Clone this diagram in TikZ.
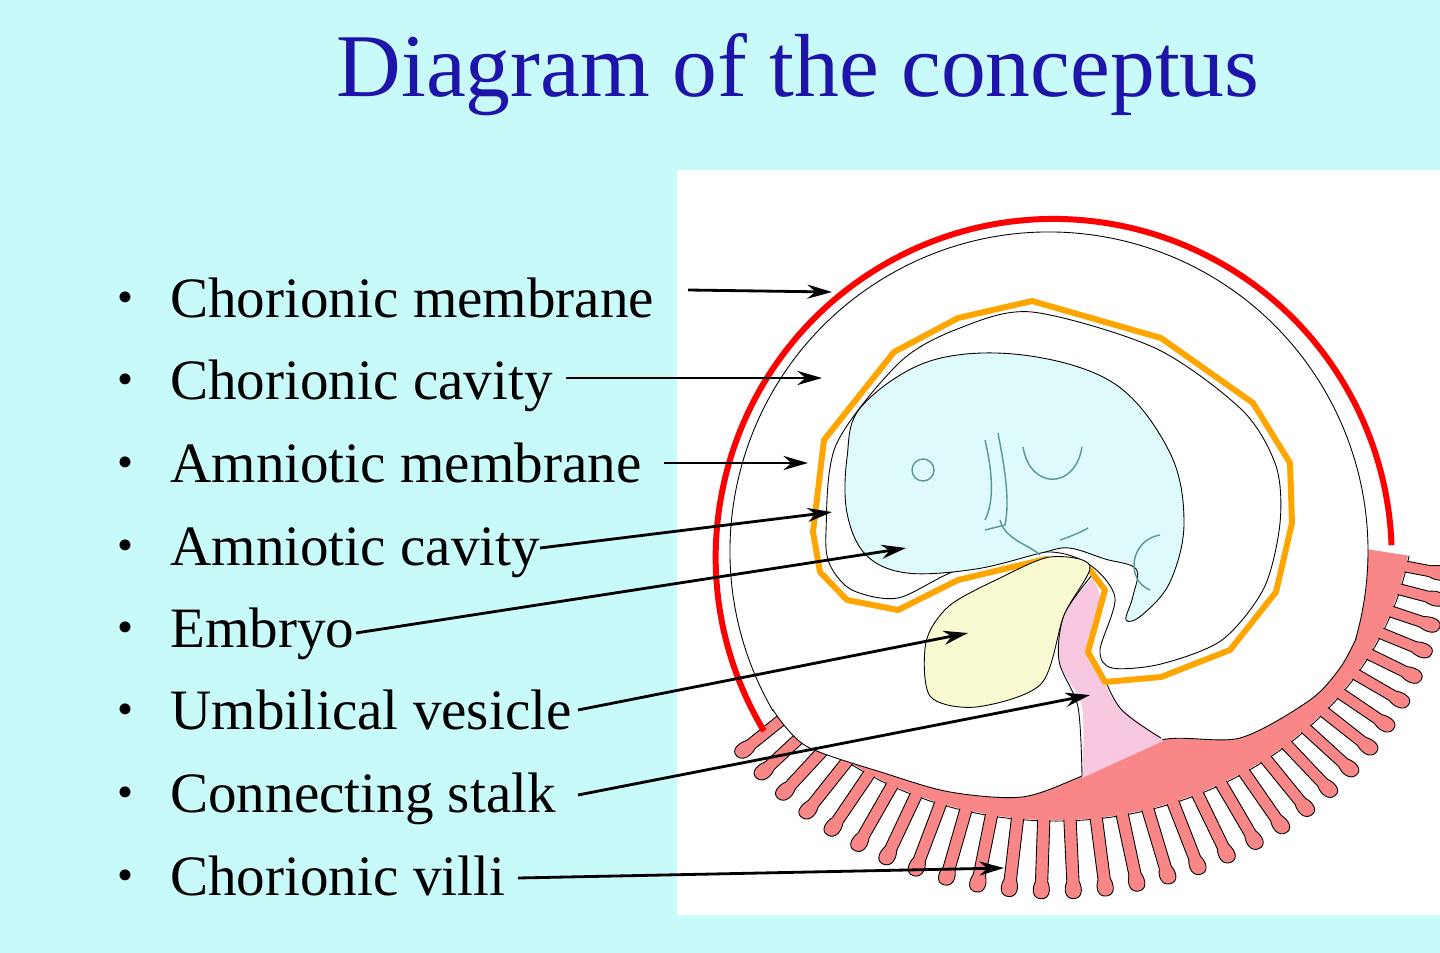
\documentclass[tikz,border=0pt]{standalone}
\usepackage{fontspec}
\usetikzlibrary{arrows.meta}
\setmainfont{Liberation Serif}
\definecolor{bgc}{RGB}{200,250,250}
\definecolor{titc}{RGB}{30,20,170}
\definecolor{villc}{RGB}{250,135,135}
\definecolor{stalkc}{RGB}{248,200,225}
\definecolor{embc}{RGB}{222,250,250}
\definecolor{yolkc}{RGB}{250,250,210}
\definecolor{amnc}{RGB}{255,165,0}
\definecolor{teal2}{RGB}{90,150,150}
\tikzset{
  lbl/.style={anchor=base west,inner sep=0pt,font=\fontsize{32.5}{40}\selectfont},
  bul/.style={anchor=base,inner sep=0pt,font=\fontsize{26}{30}\selectfont},
  arr/.style={-{Stealth[length=14pt,width=8pt]},line width=1.6pt},
  villus/.style={fill=villc,draw=black,line width=0.5pt},
  thin1/.style={draw=black,line width=0.5pt},
}
\begin{document}
\begin{tikzpicture}[x=0.02cm,y=-0.02cm]
\fill[bgc] (0,0) rectangle (1440,953);
\useasboundingbox (0,0) rectangle (1440,953);
\fill[white] (677,170) rectangle (1440,915);
\node[text=titc,inner sep=0pt,font=\fontsize{51}{60}\selectfont] (title) at (798,75) {Diagram of the conceptus};

% villi
\begin{scope}[shift={(1055,500)},xscale=1.12]
  \draw[thin1] (10:321) arc[start angle=10,end angle=142,radius=321];
  \foreach \a in {12,16.2,...,141}{
    \pgfmathsetmacro\L{320+18+50*sin(\a)}
    \begin{scope}[rotate=-\a]
      \draw[villus] (290,-5.5) -- (\L-6,-5.5) .. controls (\L+1,-8.5) and (\L+11,-8) .. (\L+11,0) .. controls (\L+11,8) and (\L+1,8.5) .. (\L-6,5.5) -- (290,5.5) -- cycle;
    \end{scope}
  }
  \fill[villc] (10:320) arc[start angle=10,end angle=142,radius=320] -- (142:230) arc[start angle=142,end angle=10,radius=230] -- cycle;
\end{scope}
% chorionic cavity (white over villus bases)
\filldraw[thin1,fill=white] (1049,551) ++(150:319) arc[start angle=150,end angle=376,radius=319] -- plot[smooth] coordinates {(1356,639) (1340,668) (1310,700) (1240,738) (1161,740) (1082,776) (1022,797) (950,792) (884,773) (806,746) (773,710)} -- cycle;
\draw[red,line width=3.4pt] (1052,558) ++(149:336) arc[start angle=149,end angle=358,radius=338];

% connecting stalk
\fill[stalkc] plot[smooth] coordinates {(1092,578) (1064,615) (1059,661) (1082,707) (1082,778)} -- (1163,741) -- plot[smooth] coordinates {(1161,738) (1115,702) (1100,661) (1101,601) (1092,578)};
\draw[thin1] plot[smooth] coordinates {(1092,575) (1064,615) (1059,661) (1078,707) (1082,776)};
\draw[thin1] plot[smooth] coordinates {(1161,738) (1120,708) (1100,661) (1104,605)};

% amnion
\draw[amnc,line width=3.4pt,line join=round,fill=white] (1032,301) -- (1161,338) -- (1253,403) -- (1290,463) -- (1292,523) -- (1276,592) -- (1230,650) -- (1161,677) -- (1105,682) -- (1088,652) -- (1105,590) -- (1090,570) -- (1046,559) -- (958,580) -- (898,610) -- (847,600) -- (820,572) -- (813,532) -- (824,440) -- (894,352) -- (958,318) -- cycle;
\draw[thin1] plot[smooth cycle,tension=0.5] coordinates {(1032,312) (1155,348) (1242,410) (1276,466) (1280,523) (1264,588) (1222,640) (1161,664) (1112,668) (1100,650) (1115,598) (1090,565) (1046,552) (958,570) (898,598) (852,590) (830,565) (826,532) (836,445) (900,362) (960,328)};

% yolk sac
\draw[thin1,fill=yolkc] plot[smooth cycle] coordinates {(1050,557) (1090,566) (1064,615) (1041,684) (976,707) (930,696) (926,642) (949,606) (1000,578)};

% embryo
\draw[thin1,fill=embc] plot[smooth cycle,tension=0.6] coordinates {(861,407) (930,361) (1023,355) (1115,384) (1170,453) (1184,523) (1170,582) (1142,615) (1126,620) (1133,596) (1136,569) (1105,559) (1069,548) (1041,553) (976,569) (907,573) (866,555) (847,513) (847,458)};
\draw[teal2,line width=0.8pt] (923,470) circle[radius=11];
\draw[teal2,line width=0.8pt] (1023,447) .. controls (1030,490) and (1075,490) .. (1082,447);
\draw[teal2,line width=0.8pt] (985,440) .. controls (992,470) and (995,500) .. (985,520);
\draw[teal2,line width=0.8pt] (998,433) .. controls (1005,470) and (1010,500) .. (1005,525) -- (985,530);
\draw[teal2,line width=0.8pt] (1000,520) .. controls (1005,540) and (1030,545) .. (1040,555);
\draw[teal2,line width=0.8pt] (1160,535) .. controls (1130,540) and (1125,580) .. (1150,590);
\draw[teal2,line width=0.8pt] (1060,540) .. controls (1075,535) and (1085,530) .. (1088,528);

% labels
\foreach \i/\y/\t in {1/300/Chorionic membrane,2/382/Chorionic cavity,3/465/Amniotic membrane,4/548/Amniotic cavity,5/630/Embryo,6/712/Umbilical vesicle,7/795/Connecting stalk,8/878/Chorionic villi}{
  \node[bul] (b\i) at (125,\y+12) {•};
  \node[lbl] (l\i) at (170,\y+17) {\t};
}
\coordinate (t1) at (832,292); \coordinate (s1) at (688,290);
\coordinate (t2) at (822,378); \coordinate (s2) at (566,378);
\coordinate (t3) at (808,463); \coordinate (s3) at (664,463);
\coordinate (t4) at (832,512); \coordinate (s4) at (540,548);
\coordinate (t5) at (906,548); \coordinate (s5) at (356,633);
\coordinate (t6) at (968,633); \coordinate (s6) at (578,710);
\coordinate (t7) at (1090,695); \coordinate (s7) at (578,795);
\coordinate (t8) at (1004,868); \coordinate (s8) at (518,878);
\foreach \i in {1,...,8}{\draw[arr] (s\i) -- (t\i);}
\end{tikzpicture}
\end{document}
